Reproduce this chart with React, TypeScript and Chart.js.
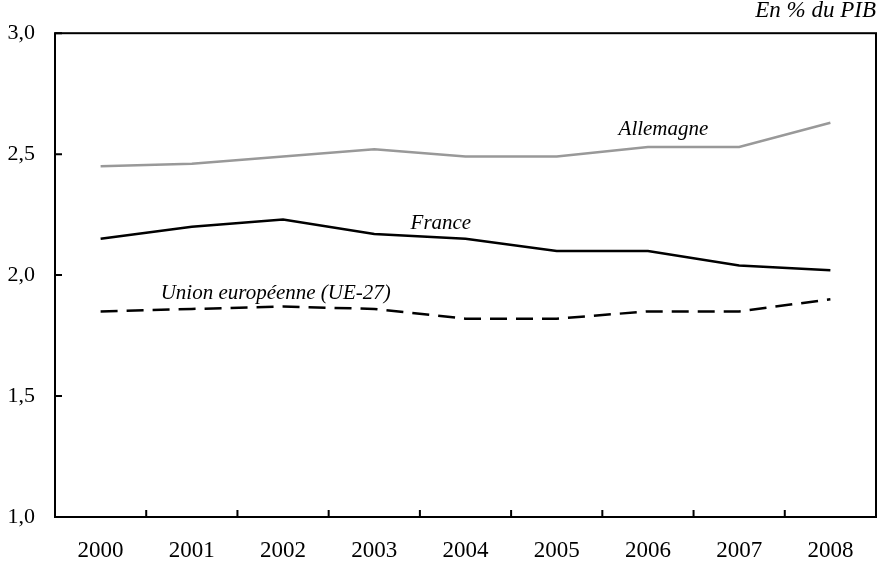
import React, { useEffect, useRef } from "react";
import { Chart, registerables } from "chart.js";

Chart.register(...registerables);

const years = ["2000", "2001", "2002", "2003", "2004", "2005", "2006", "2007", "2008"];
const allemagne = [2.45, 2.46, 2.49, 2.52, 2.49, 2.49, 2.53, 2.53, 2.63];
const france = [2.15, 2.2, 2.23, 2.17, 2.15, 2.1, 2.1, 2.04, 2.02];
const ue27 = [1.85, 1.86, 1.87, 1.86, 1.82, 1.82, 1.85, 1.85, 1.9];
const yTicks = [1.0, 1.5, 2.0, 2.5, 3.0];
const seriesLabels = ["Allemagne", "France", "Union européenne (UE-27)"];
const unitLabel = "En % du PIB";

const FONT = "Liberation Serif";

const framePlugin = {
  id: "frame",
  afterDraw(chart: any) {
    const { ctx, chartArea } = chart;
    const xs = chart.scales.x;
    const ys = chart.scales.y;
    ctx.save();
    ctx.strokeStyle = "#000";
    ctx.lineWidth = 2;
    ctx.strokeRect(chartArea.left, chartArea.top, chartArea.right - chartArea.left, chartArea.bottom - chartArea.top);
    ctx.beginPath();
    yTicks.forEach((v) => {
      const y = ys.getPixelForValue(v);
      ctx.moveTo(chartArea.left, y);
      ctx.lineTo(chartArea.left + 7, y);
    });
    for (let i = 0; i < years.length - 1; i++) {
      const x = (xs.getPixelForValue(i) + xs.getPixelForValue(i + 1)) / 2;
      ctx.moveTo(x, chartArea.bottom);
      ctx.lineTo(x, chartArea.bottom - 7);
    }
    ctx.stroke();

    ctx.fillStyle = "#000";
    ctx.font = `italic 21px "${FONT}"`;
    ctx.textAlign = "center";
    ctx.textBaseline = "middle";
    const lab = (t: string, idx: number, val: number) => {
      ctx.fillText(t, xs.getPixelForValue(idx), ys.getPixelForValue(val));
    };
    lab(seriesLabels[0], 6.17, 2.6);
    lab(seriesLabels[1], 3.73, 2.214);
    lab(seriesLabels[2], 1.92, 1.926);
    ctx.font = `italic 23px "${FONT}"`;
    ctx.textAlign = "right";
    ctx.fillText(unitLabel, chartArea.right, 11);
    ctx.restore();
  },
};

export default function App() {
  const ref = useRef<HTMLCanvasElement>(null);
  useEffect(() => {
    document.body.style.margin = "0";
    let chart: Chart | null = null;
    let cancelled = false;
    const make = () => {
      if (cancelled || !ref.current) return;
      chart = new Chart(ref.current, {
        type: "line",
        data: {
          labels: years,
          datasets: [
            { label: seriesLabels[0], data: allemagne, borderColor: "#999999", borderWidth: 2.5, pointRadius: 0, tension: 0 },
            { label: seriesLabels[1], data: france, borderColor: "#000000", borderWidth: 2.5, pointRadius: 0, tension: 0 },
            { label: seriesLabels[2], data: ue27, borderColor: "#000000", borderWidth: 2.5, borderDash: [17, 9], pointRadius: 0, tension: 0 },
          ],
        },
        options: {
          responsive: false,
          animation: false,
          layout: { padding: { top: 31, right: 7, left: 0, bottom: 0 } },
          plugins: { legend: { display: false }, tooltip: { enabled: false } },
          scales: {
            x: {
              offset: true,
              grid: { display: false, drawTicks: false, tickLength: 0 },
              border: { display: false },
              ticks: { color: "#000", font: { family: FONT, size: 23 }, padding: 20, maxRotation: 0 },
              afterFit: (s: any) => { s.height = 49; },
            },
            y: {
              min: 1,
              max: 3,
              grid: { display: false, drawTicks: false, tickLength: 0 },
              border: { display: false },
              ticks: {
                stepSize: 0.5,
                color: "#000",
                font: { family: FONT, size: 22 },
                padding: 20,
                callback: (v: any) => Number(v).toFixed(1).replace(".", ","),
              },
              afterFit: (s: any) => { s.width = 55; },
            },
          },
        },
        plugins: [framePlugin],
      });
    };
    Promise.all([
      document.fonts.load(`22px "${FONT}"`),
      document.fonts.load(`italic 22px "${FONT}"`),
    ]).then(make, make);
    return () => {
      cancelled = true;
      if (chart) chart.destroy();
    };
  }, []);
  return (
    <div style={{ width: 883, height: 566 }}>
      <canvas ref={ref} width={883} height={566} />
    </div>
  );
}
